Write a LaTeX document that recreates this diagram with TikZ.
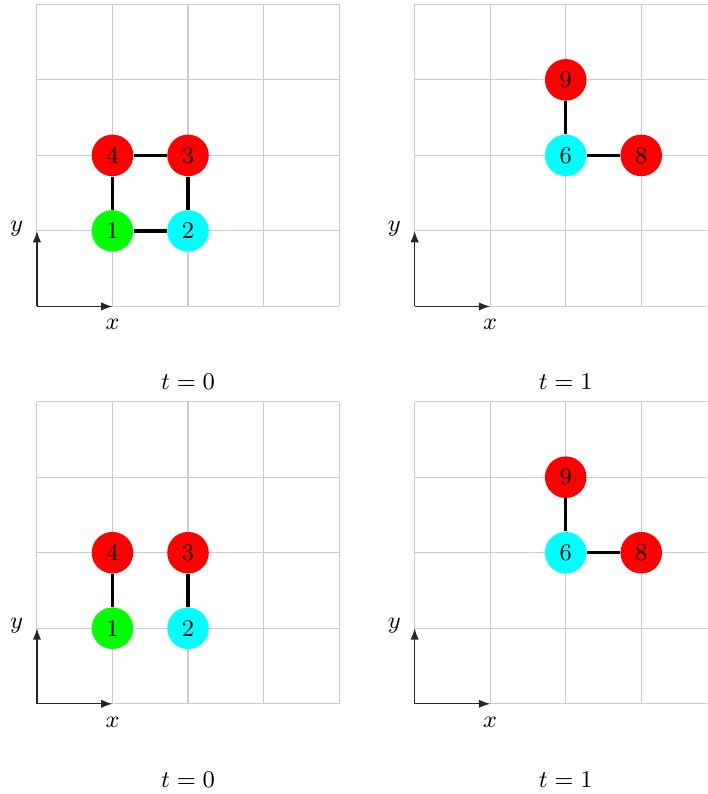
\documentclass[tikz,border=0pt]{standalone}
\usepackage{tikz}
\usetikzlibrary{arrows.meta}
\definecolor{agentgreen}{rgb}{0,1,0}
\definecolor{agentcyan}{rgb}{0,1,1}
\definecolor{agentred}{rgb}{1,0,0}

\begin{document}
\begin{tikzpicture}[
    font=\small,
    >={Latex[length=1.5mm,width=1.1mm]},
    gridline/.style={draw=black!20, line width=0.4pt},
    axisarrow/.style={->, line width=0.5pt, color=black!85},
    agent/.style={circle, minimum size=0.55cm, inner sep=0pt},
    greenagent/.style={agent, fill=agentgreen},
    cyanagent/.style={agent, fill=agentcyan},
    redagent/.style={agent, fill=agentred},
    link/.style={line width=1.3pt, color=black},
    axislabel/.style={inner sep=0pt},
    steplabel/.style={inner sep=1pt},
  ]

  % frame of the page (right panels are cut at the edge)
  \useasboundingbox (-0.489,-6.454) rectangle (8.876,4.057);
  \clip (-0.489,-6.454) rectangle (8.876,4.057);

  % -----------------------------------------------------------
  % Top left: t = 0, closed square
  % -----------------------------------------------------------
  \begin{scope}
    \draw[gridline] (0,0) grid (4,4);
    \coordinate (ao) at (0,0);
    \coordinate (ax) at (1,0);
    \coordinate (ay) at (0,1);
    \draw[axisarrow] (ao) -- (ax);
    \draw[axisarrow] (ao) -- (ay);
    \node[axislabel] (axl) at (1,-0.24) {$x$};
    \node[axislabel] (ayl) at (-0.27,1.03) {$y$};

    \node[greenagent] (a1) at (1,1) {1};
    \node[cyanagent]  (a2) at (2,1) {2};
    \node[redagent]   (a3) at (2,2) {3};
    \node[redagent]   (a4) at (1,2) {4};
    \draw[link] (a1) -- (a2);
    \draw[link] (a2) -- (a3);
    \draw[link] (a3) -- (a4);
    \draw[link] (a4) -- (a1);

    \node[steplabel] (at) at (2,-1.0) {$t=0$};
  \end{scope}

  % -----------------------------------------------------------
  % Top right: t = 1
  % -----------------------------------------------------------
  \begin{scope}[shift={(5,0)}]
    \draw[gridline] (0,0) grid (4,4);
    \coordinate (bo) at (0,0);
    \coordinate (bx) at (1,0);
    \coordinate (by) at (0,1);
    \draw[axisarrow] (bo) -- (bx);
    \draw[axisarrow] (bo) -- (by);
    \node[axislabel] (bxl) at (1,-0.24) {$x$};
    \node[axislabel] (byl) at (-0.27,1.03) {$y$};

    \node[cyanagent] (b6) at (2,2) {6};
    \node[redagent]  (b8) at (3,2) {8};
    \node[redagent]  (b9) at (2,3) {9};
    \draw[link] (b6) -- (b9);
    \draw[link] (b6) -- (b8);

    \node[steplabel] (bt) at (2,-1.0) {$t=1$};
  \end{scope}

  % -----------------------------------------------------------
  % Bottom left: t = 0, two pairs
  % -----------------------------------------------------------
  \begin{scope}[shift={(0,-5.26)}]
    \draw[gridline] (0,0) grid (4,4);
    \coordinate (co) at (0,0);
    \coordinate (cx) at (1,0);
    \coordinate (cy) at (0,1);
    \draw[axisarrow] (co) -- (cx);
    \draw[axisarrow] (co) -- (cy);
    \node[axislabel] (cxl) at (1,-0.24) {$x$};
    \node[axislabel] (cyl) at (-0.27,1.03) {$y$};

    \node[greenagent] (c1) at (1,1) {1};
    \node[cyanagent]  (c2) at (2,1) {2};
    \node[redagent]   (c3) at (2,2) {3};
    \node[redagent]   (c4) at (1,2) {4};
    \draw[link] (c1) -- (c4);
    \draw[link] (c2) -- (c3);

    \node[steplabel] (ct) at (2,-1.0) {$t=0$};
  \end{scope}

  % -----------------------------------------------------------
  % Bottom right: t = 1
  % -----------------------------------------------------------
  \begin{scope}[shift={(5,-5.26)}]
    \draw[gridline] (0,0) grid (4,4);
    \coordinate (do) at (0,0);
    \coordinate (dx) at (1,0);
    \coordinate (dy) at (0,1);
    \draw[axisarrow] (do) -- (dx);
    \draw[axisarrow] (do) -- (dy);
    \node[axislabel] (dxl) at (1,-0.24) {$x$};
    \node[axislabel] (dyl) at (-0.27,1.03) {$y$};

    \node[cyanagent] (d6) at (2,2) {6};
    \node[redagent]  (d8) at (3,2) {8};
    \node[redagent]  (d9) at (2,3) {9};
    \draw[link] (d6) -- (d9);
    \draw[link] (d6) -- (d8);

    \node[steplabel] (dt) at (2,-1.0) {$t=1$};
  \end{scope}

\end{tikzpicture}
\end{document}
